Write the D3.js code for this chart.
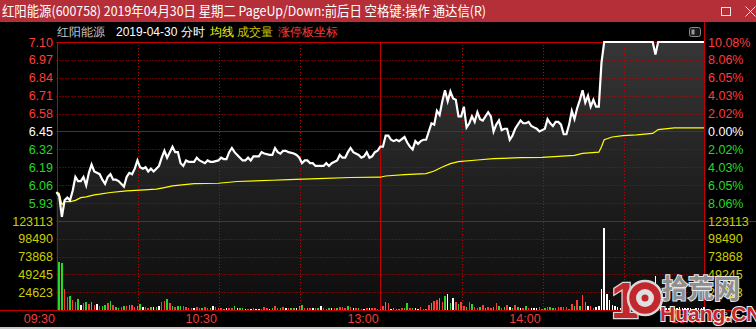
<!DOCTYPE html>
<html>
<head>
<meta charset="utf-8">
<script src="https://cdn.jsdelivr.net/npm/d3@7"></script>
<style>
  body { margin: 0; background: #000; overflow: hidden; }
  text { font-family: "Liberation Sans", Arial, sans-serif; }
  .cjk { font-family: "Noto Sans CJK SC", sans-serif; }
</style>
</head>
<body>
<svg id="chart" width="756" height="329"></svg>
<script>
// ---- data ----
const prevClose = 6.45;
const priceTickLabels = ["7.10", "6.97", "6.84", "6.71", "6.58", "6.45", "6.32", "6.19", "6.06", "5.93"];
const pctTickLabels = ["10.08%", "8.06%", "6.05%", "4.03%", "2.02%", "0.00%", "2.02%", "4.03%", "6.05%", "8.06%"];
const volTickLabels = ["123113", "98490", "73868", "49245", "24623"];
const timeLabels = ["09:30", "10:30", "13:00", "14:00", "15:00"];
const timeLabelMinutes = [0, 60, 120, 180, 240];

// [minute from 09:30, price]
const pricePoints = [
  [0, 6.01], [1, 5.98], [2, 5.83], [3, 5.95], [4, 5.97], [5, 5.95], [6, 6.02], [7, 6.12], [8, 6.09], [9, 6.09],
  [10, 6.12], [11, 6.06], [12, 6.15], [13, 6.21], [14, 6.16], [15, 6.15], [16, 6.14], [17, 6.10], [18, 6.07], [19, 6.12],
  [20, 6.14], [21, 6.10], [22, 6.10], [23, 6.09], [25, 6.05], [26, 6.12], [27, 6.15], [28, 6.14], [29, 6.18], [30, 6.24],
  [31, 6.19], [32, 6.18], [33, 6.19], [34, 6.16], [35, 6.18], [36, 6.16], [37, 6.18], [38, 6.20], [39, 6.26], [40, 6.31],
  [41, 6.26], [42, 6.30], [43, 6.34], [44, 6.30], [45, 6.30], [46, 6.22], [47, 6.20], [48, 6.24], [49, 6.23], [51, 6.23],
  [52, 6.26], [53, 6.24], [55, 6.22], [56, 6.24], [57, 6.23], [58, 6.23], [60, 6.24], [61, 6.26], [62, 6.25], [63, 6.25],
  [64, 6.30], [65, 6.33], [66, 6.30], [67, 6.28], [68, 6.26], [69, 6.24], [70, 6.24], [71, 6.26], [72, 6.24], [73, 6.27],
  [75, 6.27], [76, 6.30], [77, 6.29], [79, 6.28], [80, 6.28], [81, 6.33], [82, 6.30], [83, 6.29], [84, 6.31], [85, 6.31],
  [86, 6.30], [88, 6.29], [89, 6.28], [90, 6.26], [91, 6.22], [92, 6.24], [93, 6.24], [94, 6.22], [95, 6.22], [96, 6.20],
  [97, 6.20], [99, 6.20], [100, 6.22], [101, 6.20], [102, 6.22], [104, 6.24], [105, 6.28], [106, 6.26], [107, 6.26], [108, 6.30],
  [109, 6.33], [110, 6.30], [112, 6.28], [113, 6.26], [114, 6.27], [115, 6.30], [116, 6.26], [117, 6.27], [118, 6.30], [119, 6.31],
  [120, 6.34], [121, 6.34], [122, 6.42], [123, 6.42], [124, 6.39], [125, 6.38], [126, 6.39], [127, 6.38], [129, 6.41], [130, 6.37],
  [131, 6.34], [132, 6.32], [133, 6.38], [134, 6.36], [135, 6.38], [136, 6.39], [137, 6.39], [138, 6.45], [139, 6.51], [140, 6.50],
  [141, 6.60], [142, 6.57], [143, 6.67], [144, 6.75], [145, 6.67], [146, 6.74], [147, 6.69], [148, 6.68], [149, 6.56], [150, 6.56],
  [151, 6.63], [152, 6.48], [153, 6.51], [154, 6.56], [155, 6.52], [156, 6.59], [157, 6.54], [158, 6.53], [159, 6.56], [160, 6.59],
  [161, 6.56], [162, 6.45], [163, 6.50], [164, 6.53], [165, 6.46], [166, 6.47], [167, 6.47], [168, 6.39], [169, 6.42], [170, 6.47],
  [172, 6.53], [173, 6.51], [174, 6.51], [175, 6.52], [176, 6.49], [177, 6.48], [178, 6.47], [179, 6.45], [180, 6.46], [181, 6.47],
  [182, 6.54], [183, 6.51], [184, 6.49], [185, 6.52], [186, 6.52], [187, 6.50], [188, 6.43], [189, 6.43], [190, 6.50], [191, 6.60],
  [192, 6.54], [193, 6.62], [194, 6.68], [195, 6.75], [196, 6.66], [197, 6.71], [198, 6.63], [199, 6.68], [200, 6.63], [201, 6.63],
  [202, 6.95], [203, 7.10], [221, 7.10], [222, 7.01], [223, 7.10], [240, 7.10]
];

// [minute, average price]
const avgPoints = [
  [0, 6.01], [1, 6.00], [2, 5.92], [3, 5.94], [5, 5.94], [7, 5.95], [9, 5.97], [11, 5.975], [14, 5.99], [16, 5.995],
  [20, 6.007], [26, 6.019], [31, 6.024], [37, 6.031], [40, 6.043], [43, 6.055], [51, 6.072], [60, 6.074], [67, 6.087], [80, 6.096],
  [86, 6.101], [97, 6.108], [109, 6.116], [120, 6.118], [122, 6.127], [129, 6.137], [137, 6.144], [140, 6.163], [143, 6.192], [146, 6.217],
  [149, 6.231], [156, 6.243], [162, 6.253], [172, 6.26], [180, 6.262], [192, 6.277], [195, 6.291], [201, 6.30], [202, 6.34], [203, 6.39],
  [206, 6.41], [210, 6.42], [215, 6.426], [221, 6.436], [223, 6.464], [229, 6.477], [240, 6.477]
];

// volume per minute, minutes 1..240
const volumes = [
  66800, 65400, 28600, 17600, 19400, 13800, 10600, 15200, 6500, 9300,
  11500, 8300, 11100, 6500, 8300, 5900, 5500, 7300, 10100, 12900,
  6500, 4600, 3200, 4600, 5500, 5500, 6900, 6900, 4600, 5500,
  8300, 4600, 4600, 3200, 3700, 4600, 4600, 5500, 11500, 12900,
  15200, 9300, 5500, 4600, 5500, 5500, 5500, 4600, 3200, 2400,
  2400, 3700, 3200, 3200, 4100, 3200, 3200, 5500, 4100, 2400,
  3200, 1400, 2800, 3200, 3200, 5500, 2800, 2800, 2800, 1800,
  1400, 1800, 2400, 1800, 1800, 1800, 4100, 3200, 1800, 2800,
  5100, 3200, 2800, 3700, 2800, 3200, 2400, 3200, 2400, 5500,
  6900, 3200, 3200, 3200, 3200, 2800, 3200, 5500, 2400, 1800,
  2400, 3200, 2400, 2800, 3700, 4100, 2400, 5500, 3700, 2800,
  3200, 2400, 1800, 1800, 3200, 2400, 2400, 3200, 1800, 1800,
  5500, 11500, 10100, 1800, 2800, 1400, 1400, 3200, 3200, 9700,
  2400, 3200, 3200, 1800, 3700, 1400, 1400, 6900, 10100, 12900,
  13800, 17000, 11500, 19800, 22100, 10100, 17000, 11500, 7900, 11100,
  5900, 4600, 11500, 8300, 4600, 3200, 4600, 6900, 3200, 4600,
  3200, 4600, 9700, 5500, 3200, 4600, 6900, 4600, 3200, 6900,
  4600, 3200, 2400, 5500, 3200, 3200, 3200, 3200, 4600, 1800,
  3200, 4100, 4600, 3200, 2400, 3700, 4600, 4600, 4600, 1800,
  7900, 5500, 13800, 5500, 20700, 11500, 5500, 5500, 3200, 4600,
  5500, 28600, 113400, 21700, 13800, 6500, 5500, 4600, 3200, 4100,
  2800, 5500, 3200, 2400, 4600, 3200, 2800, 2400, 3700, 2800,
  3200, 47000, 30000, 5500, 4100, 3200, 2800, 4600, 3200, 2400,
  3700, 2800, 3200, 2400, 2800, 1800, 2400, 3200, 2400, 4100
];
// R = up, G = down, W = unchanged
const volDirs = (
  "GGRRGRRGWRGRGRWRGGRGRGGRGRGRRGGWRRGWGWRRGRGRGGRRRRWR" +
  "RGRRGWRRRGWRRGWGGWRWRWWRRRWGRRGRWRGGWGGRGRWRGWRGGWRGRRRGRWRGRWRW" +
  "RRRGRGRWGGGRGGRGWWRRGRGRRGRGWGWRGRRGRGRRGRGRRGRGRGRWGRGWRGRWWWRRGR" +
  "GGGRRRRRRGRGRGWRRWWWWWWWWWWWWWWWWWWWGRWWWWWWWWWWWWWWWWW"
).split("");

// ---- layout ----
const W = 756, H = 329;
const plotL = 56.5, plotR = 704, priceTop = 42, priceBot = 221, volBot = 310;
const red = "#c40000", upColor = "#ff3c3c", downColor = "#25d925", flatColor = "#ffffff";

const svg = d3.select("#chart");
const x = d3.scaleLinear().domain([0, 240]).range([plotL, plotR]);
const yP = d3.scaleLinear().domain([5.80, 7.10]).range([priceBot, priceTop]);
const yV = d3.scaleLinear().domain([0, 123113]).range([volBot, priceBot]);

svg.append("rect").attr("width", W).attr("height", H).attr("fill", "#000");

// gradient fill under the price line
const defs = svg.append("defs");
const grad = defs.append("linearGradient").attr("id", "fillGrad")
  .attr("gradientUnits", "userSpaceOnUse").attr("x1", 0).attr("x2", 0).attr("y1", priceTop).attr("y2", volBot);
grad.append("stop").attr("offset", 0).attr("stop-color", "#363636");
grad.append("stop").attr("offset", 0.66).attr("stop-color", "#1a1a1a");
grad.append("stop").attr("offset", 1).attr("stop-color", "#0d0d0d");

svg.append("path")
  .datum(pricePoints)
  .attr("fill", "url(#fillGrad)")
  .attr("d", d3.area().x(d => x(d[0])).y0(volBot).y1(d => yP(d[1])));

// ---- grid ----
const priceTicks = priceTickLabels.map(s => +s).concat([5.80]);
const grid = svg.append("g");
priceTicks.forEach(p => {
  const solid = Math.abs(p - 7.10) < 1e-6 || Math.abs(p - prevClose) < 1e-6 || Math.abs(p - 5.80) < 1e-6;
  if (solid) return;
  grid.append("line").attr("x1", plotL).attr("x2", plotR).attr("y1", Math.round(yP(p)) + 0.5).attr("y2", Math.round(yP(p)) + 0.5)
    .attr("stroke", red).attr("stroke-dasharray", "1,2");
});
volTickLabels.slice(1).forEach(v => {
  const yy = Math.round(yV(+v)) + 0.5;
  grid.append("line").attr("x1", plotL).attr("x2", plotR).attr("y1", yy).attr("y2", yy)
    .attr("stroke", red).attr("stroke-dasharray", "1,2");
});
[30, 60, 90, 150, 180, 210].forEach(m => {
  const xx = Math.round(x(m)) + 1.5;
  grid.append("line").attr("x1", xx).attr("x2", xx).attr("y1", priceTop).attr("y2", volBot)
    .attr("stroke", red).attr("stroke-dasharray", "1,2");
});
// solid lines
const hline = (x1, x2, yy) => grid.append("line").attr("x1", x1).attr("x2", x2).attr("y1", yy).attr("y2", yy).attr("stroke", red);
const vline = (xx, y1, y2) => grid.append("line").attr("x1", xx).attr("x2", xx).attr("y1", y1).attr("y2", y2).attr("stroke", red);
hline(plotL, plotR, Math.round(yP(7.10)) + 0.5);
hline(plotL, plotR, Math.round(yP(prevClose)) + 0.5);
hline(plotL, W, Math.round(yP(5.80)) + 0.5);
hline(0, W, volBot + 0.5);
vline(Math.round(x(0)) + 0.5, priceTop, volBot);
vline(Math.round(x(120)) + 0.5, priceTop, volBot);
vline(Math.round(x(240)) + 0.5, 22, volBot);

// ---- volume bars ----
const dirColor = { R: upColor, G: downColor, W: flatColor };
svg.append("g").attr("shape-rendering", "crispEdges").selectAll("rect").data(volumes).join("rect")
  .attr("x", (d, i) => x(i + 1) - 0.75)
  .attr("width", 1.5)
  .attr("y", d => yV(d))
  .attr("height", d => volBot - yV(d))
  .attr("fill", (d, i) => dirColor[volDirs[i]] || flatColor);

// ---- lines ----
svg.append("path").datum(avgPoints)
  .attr("fill", "none").attr("stroke", "#ffff00").attr("stroke-width", 1.2)
  .attr("d", d3.line().x(d => x(d[0])).y(d => yP(d[1])));
svg.append("path").datum(pricePoints)
  .attr("fill", "none").attr("stroke", "#ffffff").attr("stroke-width", 2.2).attr("stroke-linejoin", "miter")
  .attr("d", d3.line().x(d => x(d[0])).y(d => yP(d[1])));

// ---- axis labels ----
const labels = svg.append("g").attr("font-size", 12.5);
priceTickLabels.forEach((s, i) => {
  const p = +s;
  const c = p > prevClose + 1e-6 ? upColor : (p < prevClose - 1e-6 ? downColor : "#ffffff");
  labels.append("text").attr("x", 53).attr("y", yP(p)).attr("dy", "0.36em").attr("text-anchor", "end").attr("fill", c).text(s);
  labels.append("text").attr("x", 708).attr("y", yP(p)).attr("dy", "0.36em").attr("fill", c).text(pctTickLabels[i]);
});
volTickLabels.forEach(s => {
  labels.append("text").attr("x", 53).attr("y", yV(+s)).attr("dy", "0.36em").attr("text-anchor", "end").attr("fill", "#cccc00").text(s);
  labels.append("text").attr("x", 708).attr("y", yV(+s)).attr("dy", "0.36em").attr("fill", "#cccc00").text(s);
});
timeLabels.forEach((s, i) => {
  labels.append("text").attr("x", x(timeLabelMinutes[i]) - 1.5).attr("y", 318).attr("dy", "0.36em")
    .attr("text-anchor", "end").attr("fill", "#f03c3c").text(s);
});

// ---- header row ----
const header = svg.append("g").attr("class", "cjk").attr("font-size", 12);
[["红阳能源", 57, "#c8c8c8"], ["2019-04-30 分时", 116, "#ffffff"], ["均线", 210, "#ffff00"],
 ["成交量", 237, "#c8c800"], ["涨停板坐标", 278, "#ff3c3c"]].forEach(([t, xx, c]) => {
  header.append("text").attr("x", xx).attr("y", 36).attr("fill", c).text(t);
});
// small panel icon
svg.append("rect").attr("x", 689.5).attr("y", 27.5).attr("width", 11).attr("height", 9).attr("rx", 2)
  .attr("fill", "#1a1a1a").attr("stroke", "#8a8a8a");
svg.append("rect").attr("x", 691.5).attr("y", 29.5).attr("width", 3).attr("height", 5).attr("fill", "#9a9a9a");

// ---- window title bar ----
svg.append("rect").attr("width", W).attr("height", 22).attr("fill", "#b52f38");
svg.append("text").attr("class", "cjk").attr("x", 2).attr("y", 16).attr("font-size", 13.5).attr("fill", "#ffffff")
  .attr("textLength", 484).attr("lengthAdjust", "spacingAndGlyphs")
  .text("红阳能源(600758) 2019年04月30日 星期二 PageUp/Down:前后日 空格键:操作 通达信(R)");
svg.append("rect").attr("x", 721.5).attr("y", 7.5).attr("width", 9).attr("height", 8).attr("fill", "none").attr("stroke", "#e8e8e8");
svg.append("path").attr("d", "M745.5,6.5L755.5,16.5M755.5,6.5L745.5,16.5").attr("stroke", "#e8e8e8");

// bottom strip
svg.append("rect").attr("x", 0).attr("y", 327).attr("width", W).attr("height", 2).attr("fill", "#c8c8c8");
svg.append("text").attr("class", "cjk").attr("x", 718).attr("y", 322).attr("font-size", 11).attr("fill", "#dddddd").text("操作");

// ---- watermark ----
const wm = svg.append("g");
wm.append("text").attr("x", 611).attr("y", 318).attr("font-family", "DejaVu Sans").attr("font-weight", "bold")
  .attr("font-size", 50).attr("fill", "#c1272d").attr("stroke", "#d8d8d8").attr("stroke-width", 2.5)
  .attr("paint-order", "stroke").text("1");
wm.append("circle").attr("cx", 645).attr("cy", 298).attr("r", 17).attr("fill", "#c1272d").attr("stroke", "#d8d8d8").attr("stroke-width", 2.5);
wm.append("circle").attr("cx", 645).attr("cy", 298).attr("r", 9).attr("fill", "#e0e0e0");
wm.append("circle").attr("cx", 645).attr("cy", 298).attr("r", 3.5).attr("fill", "#c1272d");
wm.append("text").attr("class", "cjk").attr("x", 662).attr("y", 298).attr("font-size", 26).attr("font-weight", "bold")
  .attr("fill", "#8e8e8e").attr("stroke", "#e6e6e6").attr("stroke-width", 2).attr("paint-order", "stroke").text("拾荒网");
wm.append("text").attr("x", 660).attr("y", 321).attr("font-size", 21).attr("font-weight", "bold")
  .attr("fill", "#c1272d").attr("stroke", "#eeeeee").attr("stroke-width", 2).attr("paint-order", "stroke").text("Huang.CN");
</script>
</body>
</html>
